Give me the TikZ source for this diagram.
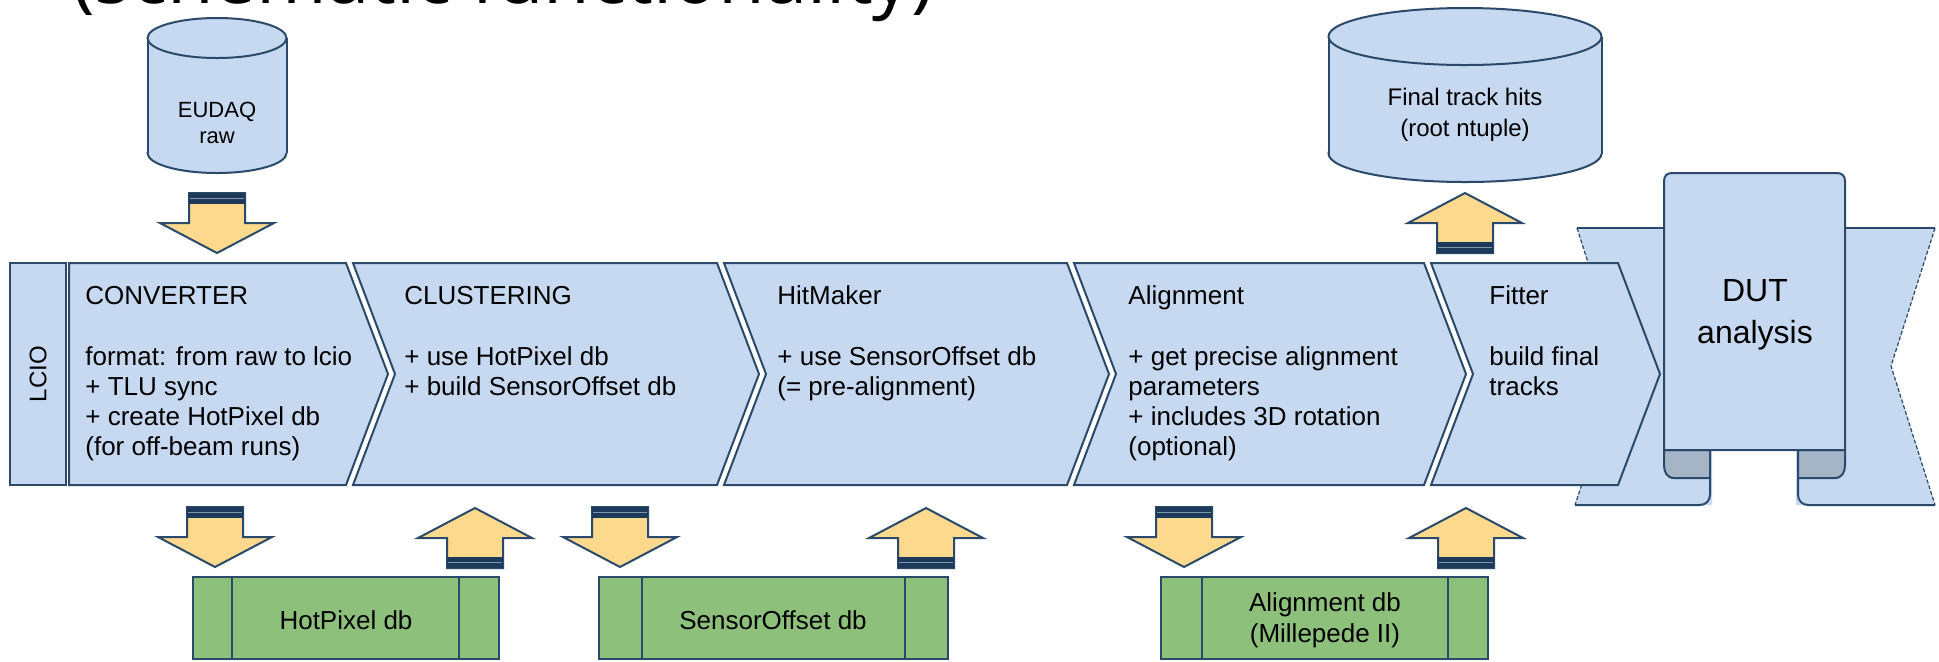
\documentclass[tikz,border=0pt]{standalone}
\usepackage{fontspec}
\setmainfont{Liberation Sans}
\newfontfamily\titlefont{Open Sans}
\definecolor{bandblue}{HTML}{C6D9F0}
\definecolor{navy}{HTML}{2B4A6B}
\definecolor{barnavy}{HTML}{1E3A5A}
\definecolor{barlight}{HTML}{7E95AE}
\definecolor{arrowyel}{HTML}{FCD98D}
\definecolor{dbgreen}{HTML}{8DC07B}
\definecolor{folddark}{HTML}{A6B5C5}
\tikzset{
  edge/.style={draw=navy, line width=1pt},
  band/.style={fill=bandblue, draw=navy, line width=1pt, line join=miter},
  fold/.style={fill=folddark, draw=navy, line width=1pt},
  ribbonend/.style={draw=navy, line width=0.6pt, dash pattern=on 2pt off 1pt},
  dbbox/.style={fill=dbgreen, draw=navy, line width=1pt},
  arrowbody/.style={fill=arrowyel, draw=navy, line width=1pt, line join=miter},
  lbl/.style={font=\fontsize{13pt}{15pt}\selectfont, align=left, anchor=base west, inner sep=0pt},
  dbtext/.style={font=\fontsize{13pt}{15.5pt}\selectfont, align=center, inner sep=0pt},
  pics/downarr/.style={code={
    \path[arrowbody] (-28,0) -- (28,0) -- (28,30) -- (57,30) -- (0,60) -- (-57,30) -- (-28,30) -- cycle;
    \fill[barnavy] (-28,0) rectangle (28,11);
    \draw[barlight, line width=0.8pt] (-27,5.5) -- (27,5.5);
  }},
  pics/uparr/.style={code={
    \path[arrowbody] (-28,0) -- (28,0) -- (28,-30) -- (57,-30) -- (0,-60) -- (-57,-30) -- (-28,-30) -- cycle;
    \fill[barnavy] (-28,0) rectangle (28,-11);
    \draw[barlight, line width=0.8pt] (-27,-5.5) -- (27,-5.5);
  }},
}
\begin{document}
\begin{tikzpicture}[x=0.5pt,y=-0.5pt]
\useasboundingbox (0,0) rectangle (1939,661);

% cut-off title
\begin{scope}
\clip (0,0) rectangle (1939,661);
\node[font=\titlefont\fontsize{38pt}{44pt}\selectfont, anchor=base west, inner sep=0pt] (title) at (72,3) {(schematic functionality)};
\end{scope}

% EUDAQ raw cylinder
\draw[band] (217,153) ellipse [x radius=34.75pt, y radius=10pt];
\fill[bandblue] (147.5,38) rectangle (286.5,153);
\draw[edge] (147.5,38) -- (147.5,153) (286.5,38) -- (286.5,153);
\draw[band] (217,38) ellipse [x radius=34.75pt, y radius=10pt];
\node[font=\fontsize{11pt}{13pt}\selectfont, align=center, anchor=base, inner sep=0pt] (eudaq) at (217,143) {EUDAQ\\raw};

% Final track hits cylinder
\draw[band] (1465,153.5) ellipse [x radius=68.25pt, y radius=14.25pt];
\fill[bandblue] (1328.5,36.5) rectangle (1601.5,153.5);
\draw[edge] (1328.5,36.5) -- (1328.5,153.5) (1601.5,36.5) -- (1601.5,153.5);
\draw[band] (1465,36.5) ellipse [x radius=68.25pt, y radius=14.25pt];
\node[font=\fontsize{12pt}{15.5pt}\selectfont, align=center, anchor=base, inner sep=0pt] (final) at (1465,136) {Final track hits\\(root ntuple)};

% DUT analysis scroll with ribbon
\path[fill=bandblue] (1577,228) -- (1712,228) -- (1712,505) -- (1575,505) -- (1621,366) -- cycle;
\draw[edge] (1577,228) -- (1664,228);
\draw[edge, rounded corners=5pt] (1710,478) -- (1710,505) -- (1575,505);
\draw[ribbonend] (1577,228) -- (1621,366) -- (1575,505);
\path[fill=bandblue] (1935,228) -- (1796,228) -- (1796,505) -- (1935,505) -- (1891,366) -- cycle;
\draw[edge] (1845,228) -- (1935,228);
\draw[edge, rounded corners=5pt] (1798,478) -- (1798,505) -- (1935,505);
\draw[ribbonend] (1935,228) -- (1891,366) -- (1935,505);
\draw[fold] (1710,450) -- (1710,478) -- (1674,478) .. controls (1667,478) and (1664,472) .. (1664,465) -- (1664,450) -- cycle;
\draw[fold] (1798,450) -- (1798,478) -- (1835,478) .. controls (1842,478) and (1845,472) .. (1845,465) -- (1845,450) -- cycle;
\draw[band] (1664,450) -- (1664,181) .. controls (1664,176) and (1667,173) .. (1672,173) -- (1837,173) .. controls (1842,173) and (1845,176) .. (1845,181) -- (1845,450) -- cycle;
\node[font=\fontsize{16pt}{21pt}\selectfont, align=center, anchor=base, inner sep=0pt] (dut) at (1755,343) {DUT\\analysis};

% main band
\draw[band] (10,263) rectangle (66,485);
\node[font=\fontsize{12pt}{14pt}\selectfont, rotate=90, inner sep=0pt] (lcio) at (38,374) {LCIO};
\draw[band] (69,263) -- (346,263) -- (388,374) -- (346,485) -- (69,485) -- cycle;
\draw[band] (353,263) -- (717,263) -- (759,374) -- (717,485) -- (353,485) -- (395,374) -- cycle;
\draw[band] (724,263) -- (1067,263) -- (1109,374) -- (1067,485) -- (724,485) -- (766,374) -- cycle;
\draw[band] (1074,263) -- (1424,263) -- (1466,374) -- (1424,485) -- (1074,485) -- (1116,374) -- cycle;
\draw[band] (1431,263) -- (1618,263) -- (1660,374) -- (1618,485) -- (1431,485) -- (1473,374) -- cycle;

\node[lbl] (convT) at (85,304) {CONVERTER};
\node[lbl] (convB) at (85,455) {format: from raw to lcio\\+ TLU sync\\+ create HotPixel db\\(for off-beam runs)};
\node[lbl] (clusT) at (404,304) {CLUSTERING};
\node[lbl] (clusB) at (404,395) {+ use HotPixel db\\+ build SensorOffset db};
\node[lbl] (hitT) at (777,304) {HitMaker};
\node[lbl] (hitB) at (777,395) {+ use SensorOffset db\\(= pre-alignment)};
\node[lbl] (aliT) at (1128,304) {Alignment};
\node[lbl] (aliB) at (1128,455) {+ get precise alignment\\parameters\\+ includes 3D rotation\\(optional)};
\node[lbl] (fitT) at (1489,304) {Fitter};
\node[lbl] (fitB) at (1489,395) {build final\\tracks};

% databases
\draw[dbbox] (193,577) rectangle (499,659);
\draw[edge] (232,577) -- (232,659) (459,577) -- (459,659);
\node[dbtext] (hpdb) at (346,620) {HotPixel db};
\draw[dbbox] (599,577) rectangle (948,659);
\draw[edge] (642,577) -- (642,659) (905,577) -- (905,659);
\node[dbtext] (sodb) at (773,620) {SensorOffset db};
\draw[dbbox] (1161,577) rectangle (1488,659);
\draw[edge] (1202,577) -- (1202,659) (1448,577) -- (1448,659);
\node[dbtext] (aldb) at (1325,620) {Alignment db\\(Millepede II)};

% block arrows
\pic (inEU) at (217,193) {downarr};
\pic (outFin) at (1465,253) {uparr};
\pic (outHP) at (215,507) {downarr};
\pic (inHP) at (475,568) {uparr};
\pic (outSO) at (620,507) {downarr};
\pic (inSO) at (926,568) {uparr};
\pic (outAL) at (1184,507) {downarr};
\pic (inAL) at (1466,568) {uparr};
\end{tikzpicture}
\end{document}
